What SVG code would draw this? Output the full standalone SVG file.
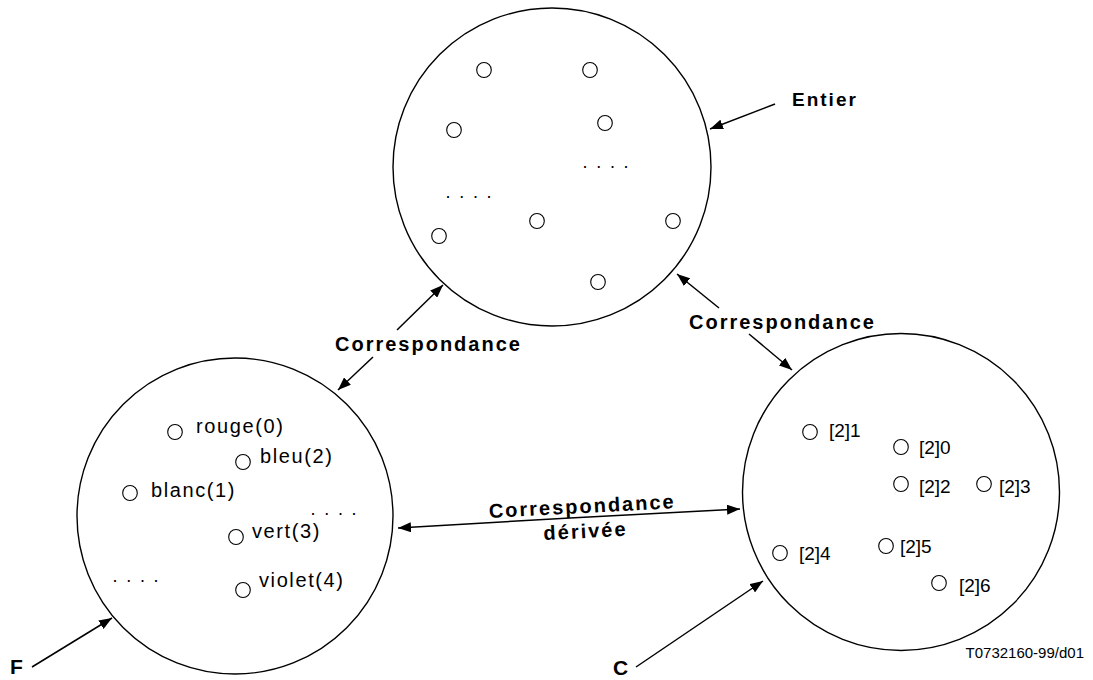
<svg xmlns="http://www.w3.org/2000/svg" width="1093" height="680" viewBox="0 0 1093 680">
<style>
.big{fill:#fff;stroke:#000;stroke-width:1.4}
.pt{fill:none;stroke:#000;stroke-width:1.1}
.lbl{font-family:"Liberation Sans",Arial,sans-serif;font-size:20px;letter-spacing:1.6px;fill:#000}
.rl{font-family:"Liberation Sans",Arial,sans-serif;font-size:19px;fill:#000}
.b{font-family:"Liberation Sans",Arial,sans-serif;font-size:20px;font-weight:bold;letter-spacing:2px;fill:#000}
.dots{font-family:"Liberation Sans",Arial,sans-serif;font-size:18px;letter-spacing:8.7px;fill:#000}
.ln{stroke:#000;stroke-width:1.5;fill:none;marker-end:url(#ah)}
</style>
<defs>
<marker id="ah" markerUnits="userSpaceOnUse" markerWidth="14" markerHeight="10" refX="13" refY="5" orient="auto">
<path d="M0,0 L13,5 L0,10 z" fill="#000"/>
</marker>
</defs>
<rect width="1093" height="680" fill="#fff"/>
<g id="entier">
<circle class="big" cx="552" cy="167" r="159"/>
<ellipse class="pt" cx="484" cy="70" rx="7.3" ry="7.5"/>
<ellipse class="pt" cx="590" cy="70" rx="7.3" ry="7.5"/>
<ellipse class="pt" cx="454" cy="130" rx="7.3" ry="7.5"/>
<ellipse class="pt" cx="605" cy="123" rx="7.3" ry="7.5"/>
<ellipse class="pt" cx="537" cy="221" rx="7.3" ry="7.5"/>
<ellipse class="pt" cx="673" cy="221" rx="7.3" ry="7.5"/>
<ellipse class="pt" cx="439" cy="236" rx="7.3" ry="7.5"/>
<ellipse class="pt" cx="598" cy="282" rx="7.3" ry="7.5"/>
<text class="dots" x="582.5" y="167.5">....</text>
<text class="dots" x="445.5" y="197.5">....</text>
</g>
<g id="F">
<circle class="big" cx="235" cy="516" r="158"/>
<ellipse class="pt" cx="175" cy="432" rx="7.3" ry="7.5"/>
<text class="lbl" x="196" y="433">rouge(0)</text>
<ellipse class="pt" cx="243" cy="462" rx="7.3" ry="7.5"/>
<text class="lbl" x="260" y="463">bleu(2)</text>
<ellipse class="pt" cx="130" cy="493" rx="7.3" ry="7.5"/>
<text class="lbl" x="151" y="497">blanc(1)</text>
<ellipse class="pt" cx="236" cy="537" rx="7.3" ry="7.5"/>
<text class="lbl" x="252" y="538">vert(3)</text>
<ellipse class="pt" cx="243" cy="590" rx="7.3" ry="7.5"/>
<text class="lbl" x="259" y="587">violet(4)</text>
<text class="dots" x="310.5" y="514.5">....</text>
<text class="dots" x="112.5" y="581.5">....</text>
</g>
<g id="C">
<circle class="big" cx="901" cy="492" r="158.5"/>
<ellipse class="pt" cx="810" cy="432" rx="7.3" ry="7.5"/>
<text class="rl" x="829" y="437">[2]1</text>
<ellipse class="pt" cx="901" cy="447" rx="7.3" ry="7.5"/>
<text class="rl" x="919" y="454">[2]0</text>
<ellipse class="pt" cx="901" cy="484" rx="7.3" ry="7.5"/>
<text class="rl" x="919" y="493">[2]2</text>
<ellipse class="pt" cx="984" cy="484" rx="7.3" ry="7.5"/>
<text class="rl" x="999" y="493">[2]3</text>
<ellipse class="pt" cx="780" cy="553" rx="7.3" ry="7.5"/>
<text class="rl" x="799" y="560">[2]4</text>
<ellipse class="pt" cx="886" cy="546" rx="7.3" ry="7.5"/>
<text class="rl" x="900" y="553">[2]5</text>
<ellipse class="pt" cx="939" cy="583" rx="7.3" ry="7.5"/>
<text class="rl" x="959" y="592">[2]6</text>
</g>
<g id="connectors">
<line class="ln" x1="775" y1="104" x2="710" y2="129"/>
<line class="ln" x1="32" y1="667" x2="112" y2="618"/>
<line class="ln" x1="636" y1="667" x2="763" y2="581"/>
<line class="ln" x1="397" y1="330" x2="443" y2="285"/>
<line class="ln" x1="373" y1="357" x2="338" y2="390"/>
<line class="ln" x1="719" y1="308" x2="677" y2="274"/>
<line class="ln" x1="749" y1="334" x2="792" y2="370"/>
<line class="ln" x1="570" y1="518" x2="398" y2="528"/>
<line class="ln" x1="570" y1="518" x2="740" y2="509"/>
</g>
<g id="labels">
<text class="b" x="792" y="106" style="font-size:19px">Entier</text>
<text class="b" x="335" y="351">Correspondance</text>
<text class="b" x="689" y="329">Correspondance</text>
<g transform="rotate(-3 583 522)">
<text class="b" x="583" y="513" text-anchor="middle">Correspondance</text>
<text class="b" x="585" y="538" text-anchor="middle">dérivée</text>
</g>
<text class="b" x="10" y="674" style="font-size:21px;letter-spacing:0">F</text>
<text class="b" x="613" y="675" style="font-size:21px;letter-spacing:0">C</text>
<text x="1084" y="658" text-anchor="end" style="font-family:'Liberation Sans',Arial,sans-serif;font-size:15px">T0732160-99/d01</text>
</g>
</svg>
